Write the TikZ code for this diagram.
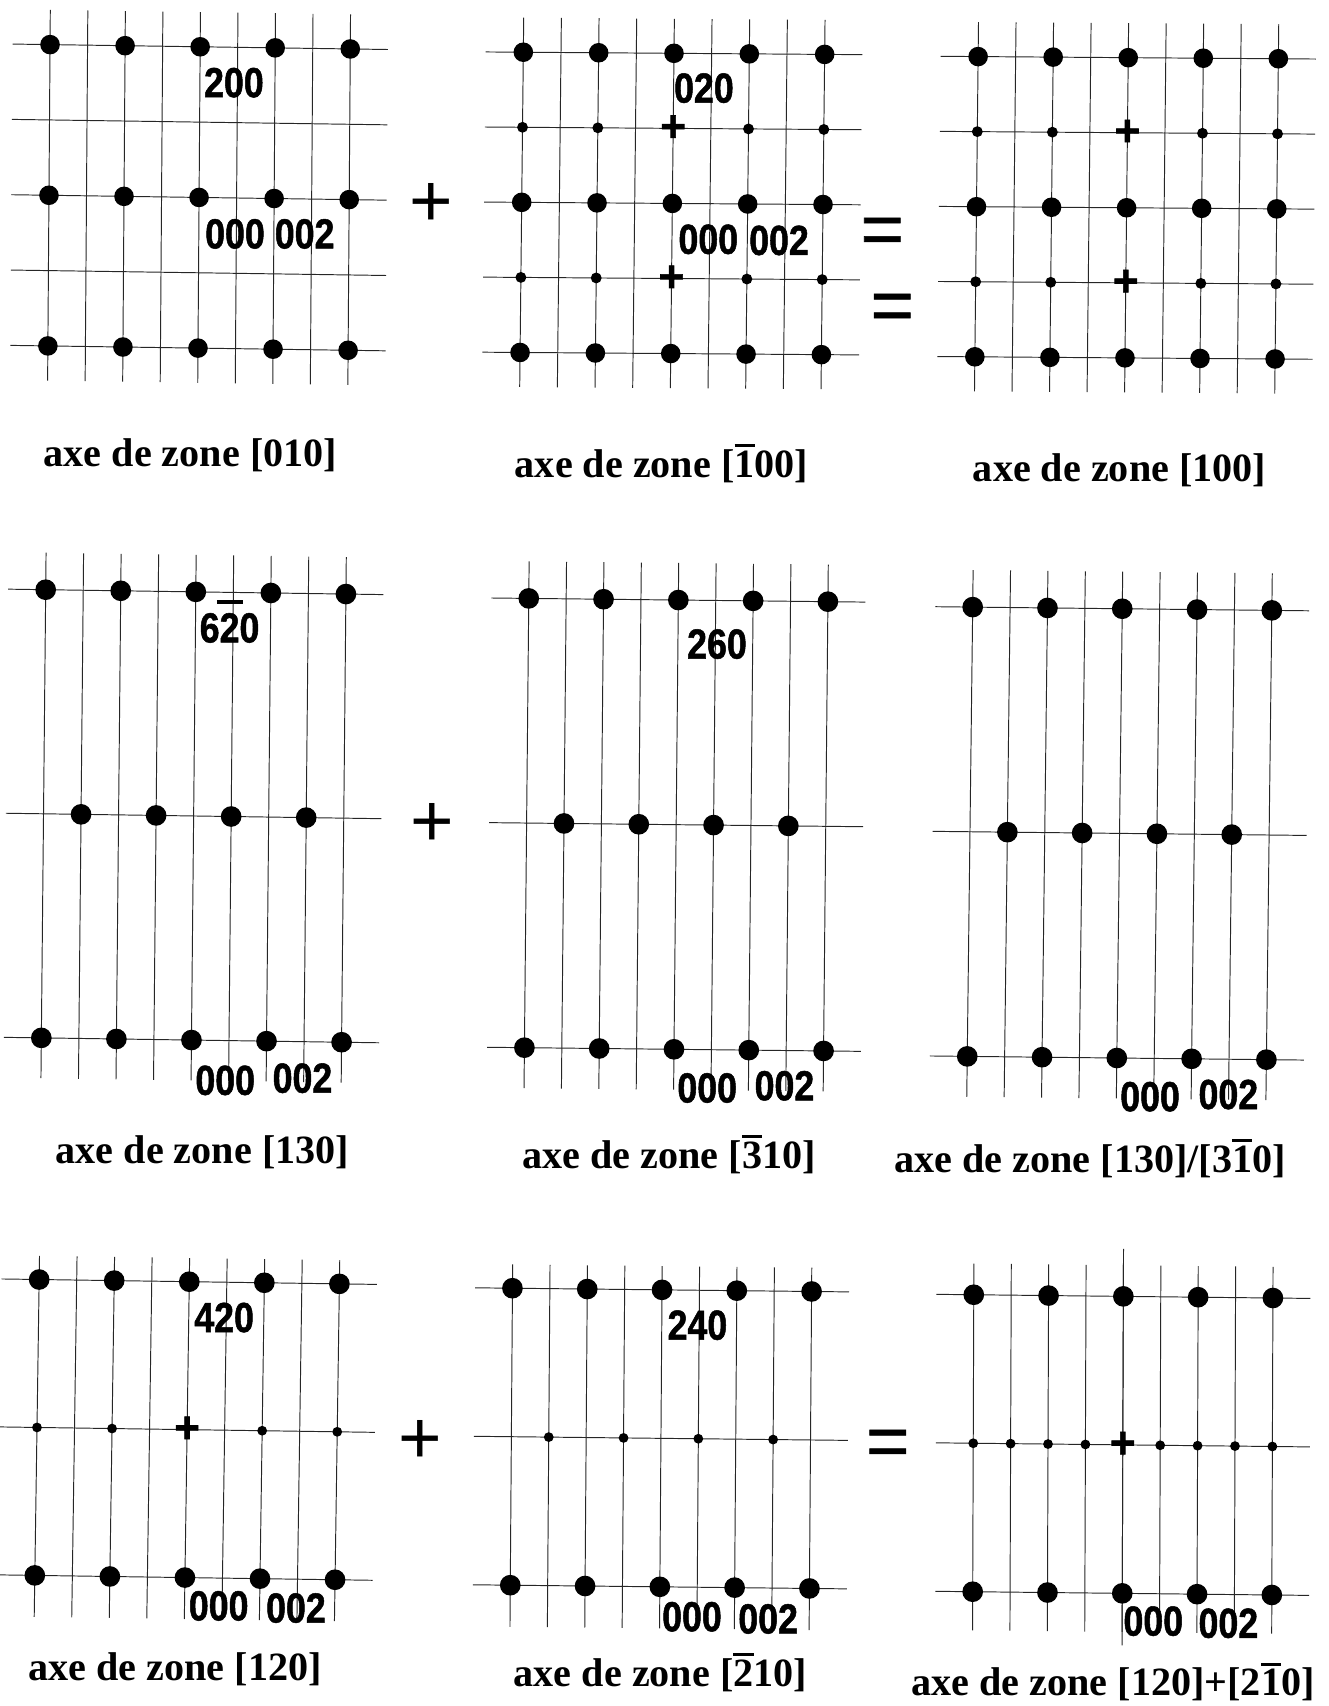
\documentclass[tikz,border=0pt]{standalone}
\usepackage{fontspec}
\setmainfont{Liberation Serif}
\newfontfamily\chiffres[FakeStretch=0.85,BoldFeatures={FakeBold=1.2}]{Liberation Sans}
\newfontfamily\signes[BoldFeatures={FakeBold=1.5}]{Liberation Sans}
\newfontfamily\egaux[FakeBold=0.7]{Liberation Sans}
\tikzset{ligne/.style={line width=0.5pt,black!85},
  indice/.style={font=\chiffres\bfseries\fontsize{22}{24}\selectfont,inner sep=0pt},
  axe/.style={font=\bfseries\fontsize{21}{25}\selectfont,inner sep=0pt},
  signe/.style={font=\signes\fontsize{39}{40}\selectfont,inner sep=0pt},
  egal/.style={font=\egaux\fontsize{39}{40}\selectfont,inner sep=0pt},
  croix/.style={font=\signes\bfseries\fontsize{23}{23}\selectfont,inner sep=0pt}}
\newcommand{\barre}[1]{\leavevmode\vbox{\hrule height 1.5pt\kern 2pt\hbox{#1}}}
\newcommand{\barreg}[1]{\leavevmode\vbox{\hbox to 0pt{\kern -1.5pt\vrule width 13.5pt height 2.5pt\hss}\nointerlineskip\kern 4.5pt\hbox{#1}}}
\newcommand{\verticales}[2]{\foreach \c in {0,...,8}{\draw[ligne] (\c,#1)--(\c,#2);}}
\newcommand{\rangees}[1]{\foreach \r in {#1}{\draw[ligne] (-1,\r)--(9,\r);}}
\newcommand{\noeuds}[3]{\foreach \r in {#1}{\foreach \c in {#2}{\fill (\c,\r) circle (#3);}}}
\begin{document}
\begin{tikzpicture}[x=0.02cm,y=-0.02cm]
\useasboundingbox (-1,-1) rectangle (1220,1567);
% premiere ligne
\begin{scope}[shift={(45,40)},x={(.69cm,-.01cm)},y={(-.01cm,-1.385cm)}]
\verticales{-.46}{4.46}
\rangees{0,...,4}
\noeuds{0,2,4}{0,2,4,6,8}{.18cm}
\end{scope}
\begin{scope}[shift={(480,47)},x={(.6925cm,-.005cm)},y={(-.015cm,-1.38cm)}]
\verticales{-.46}{4.46}
\rangees{0,...,4}
\noeuds{0,2,4}{0,2,4,6,8}{.18cm}
\noeuds{1,3}{0,2,6,8}{.1cm}
\node[croix] (cr2a) at (4,1) {+};
\node[croix] (cr2b) at (4,3) {+};
\end{scope}
\begin{scope}[shift={(898,51)},x={(.69cm,-.005cm)},y={(-.015cm,-1.38cm)}]
\verticales{-.46}{4.46}
\rangees{0,...,4}
\noeuds{0,2,4}{0,2,4,6,8}{.18cm}
\noeuds{1,3}{0,2,6,8}{.1cm}
\node[croix] (cr3a) at (4,1) {+};
\node[croix] (cr3b) at (4,3) {+};
\end{scope}
% deuxieme ligne
\begin{scope}[shift={(41,541)},x={(.69cm,-.01cm)},y={(-.04cm,-4.12cm)}]
\verticales{-.165}{2.18}
\rangees{0,1,2}
\noeuds{0,2}{0,2,4,6,8}{.19cm}
\noeuds{1}{1,3,5,7}{.19cm}
\end{scope}
\begin{scope}[shift={(485,549)},x={(.6875cm,-.0075cm)},y={(-.04cm,-4.13cm)}]
\verticales{-.165}{2.18}
\rangees{0,1,2}
\noeuds{0,2}{0,2,4,6,8}{.19cm}
\noeuds{1}{1,3,5,7}{.19cm}
\end{scope}
\begin{scope}[shift={(893,557)},x={(.6875cm,-.0075cm)},y={(-.05cm,-4.13cm)}]
\verticales{-.165}{2.18}
\rangees{0,1,2}
\noeuds{0,2}{0,2,4,6,8}{.19cm}
\noeuds{1}{1,3,5,7}{.19cm}
\end{scope}
% troisieme ligne
\begin{scope}[shift={(35,1175)},x={(.69cm,-.01cm)},y={(-.04cm,-2.72cm)}]
\verticales{-.16}{2.28}
\rangees{0,1,2}
\noeuds{0,2}{0,2,4,6,8}{.19cm}
\noeuds{1}{0,2,6,8}{.09cm}
\node[croix] (cr7) at (4,1) {+};
\end{scope}
\begin{scope}[shift={(470,1183)},x={(.6875cm,-.0075cm)},y={(-.02cm,-2.73cm)}]
\verticales{-.16}{2.28}
\rangees{0,1,2}
\noeuds{0,2}{0,2,4,6,8}{.19cm}
\noeuds{1}{1,3,5,7}{.09cm}
\end{scope}
\begin{scope}[shift={(894,1189)},x={(.6875cm,-.0075cm)},y={(-.01cm,-2.73cm)}]
\verticales{-.21}{2.26}
\draw[ligne] (4,-.32)--(4,2.35);
\rangees{0,1,2}
\noeuds{0,2}{0,2,4,6,8}{.19cm}
\noeuds{1}{0,1,2,3,5,6,7,8}{.09cm}
\node[croix] (cr9) at (4,1) {+};
\end{scope}
% indices
\node[indice] (i200) at (214,75) {200};
\node[indice] (i000a) at (215,214) {000};
\node[indice] (i002a) at (279,214) {002};
\node[indice] (i020) at (646,80) {020};
\node[indice] (i000b) at (650,219) {000};
\node[indice] (i002b) at (715,220) {002};
\node[indice] (i620) at (210,570) {6\barreg{2}0};
\node[indice] (i000d) at (206,992) {000};
\node[indice] (i002d) at (277,990) {002};
\node[indice] (i260) at (658,591) {260};
\node[indice] (i000e) at (649,999) {000};
\node[indice] (i002e) at (720,997) {002};
\node[indice] (i000f) at (1056,1007) {000};
\node[indice] (i002f) at (1128,1005) {002};
\node[indice] (i420) at (205,1210) {420};
\node[indice] (i000g) at (200,1475) {000};
\node[indice] (i002g) at (271,1477) {002};
\node[indice] (i240) at (640,1217) {240};
\node[indice] (i000h) at (635,1485) {000};
\node[indice] (i002h) at (705,1487) {002};
\node[indice] (i000i) at (1059,1489) {000};
\node[indice] (i002i) at (1128,1491) {002};
% signes
\node[signe] (plusa) at (395,187) {+};
\node[signe] (plusb) at (396,757) {+};
\node[signe] (plusc) at (385,1324) {+};
\node[egal] (egala) at (810,216) {=};
\node[egal] (egalb) at (819,286) {=};
\node[egal] (egalc) at (815,1330) {=};
% axes de zone
\node[axe] (axe1) at (174,417) {axe de zone [010]};
\node[axe] (axe2) at (607,425) {axe de zone [\barre{1}00]};
\node[axe] (axe3) at (1028,431) {axe de zone [100]};
\node[axe] (axe4) at (185,1058) {axe de zone [130]};
\node[axe] (axe5) at (614,1060) {axe de zone [\barre{3}10]};
\node[axe] (axe6) at (1001,1064) {axe de zone [130]/[3\barre{1}0]};
\node[axe] (axe7) at (160,1533) {axe de zone [120]};
\node[axe] (axe8) at (606,1536) {axe de zone [\barre{2}10]};
\node[axe] (axe9) at (1022,1545) {axe de zone [120]+[2\barre{1}0]};
\end{tikzpicture}
\end{document}
